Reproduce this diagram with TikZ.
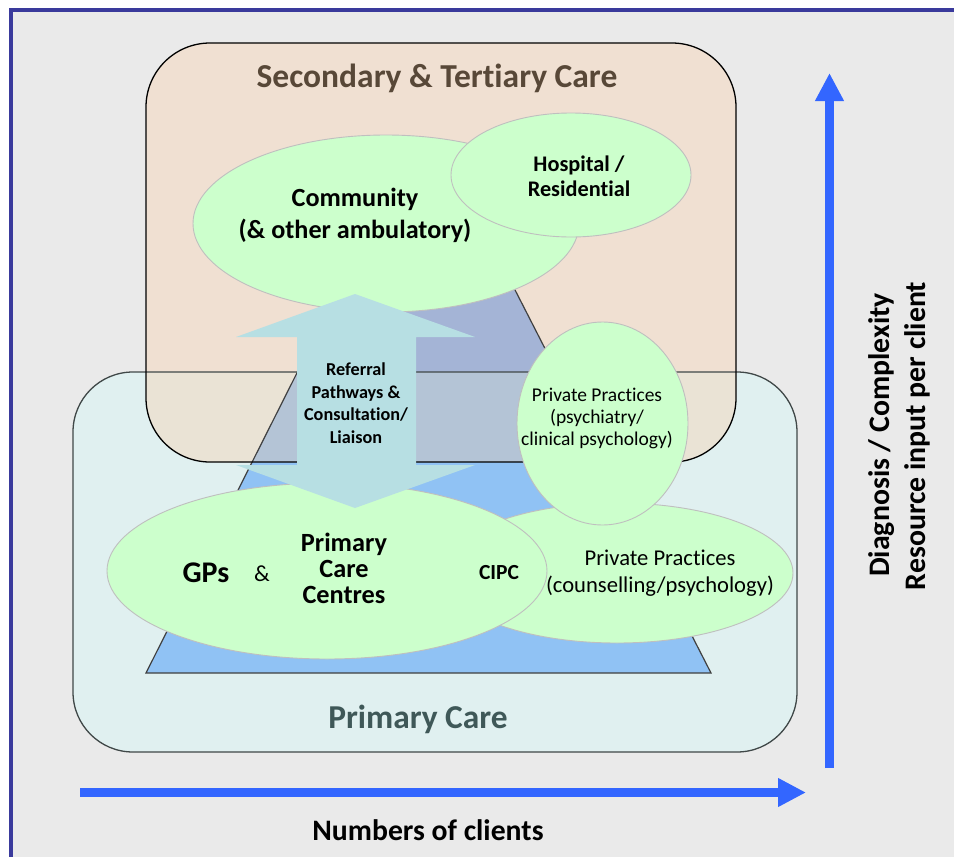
\documentclass[tikz,border=0pt]{standalone}
\usepackage{fontspec}
\setmainfont{Carlito}[Ligatures={NoCommon,NoContextual}]
\usetikzlibrary{arrows.meta,shapes.geometric}
\definecolor{bgc}{HTML}{EAEAEA}
\definecolor{framec}{HTML}{3A3A9C}
\definecolor{secc}{HTML}{F0E0D2}
\definecolor{primc}{HTML}{E0F0F0}
\definecolor{overc}{HTML}{EAE3D5}
\definecolor{trapc}{HTML}{90C2F4}
\definecolor{trapsec}{HTML}{A4B4D6}
\definecolor{trapover}{HTML}{B4C4D6}
\definecolor{ellc}{HTML}{CCFFCC}
\definecolor{elllc}{HTML}{BFBFBF}
\definecolor{arrc}{HTML}{B7DFE3}
\definecolor{axc}{HTML}{3366FF}
\definecolor{sectxt}{HTML}{584838}
\definecolor{primtxt}{HTML}{3F5858}
\definecolor{primbord}{HTML}{404848}
\begin{document}
\begin{tikzpicture}[x=1pt,y=-1pt,
  ell/.style={ellipse,fill=ellc,draw=elllc,line width=0.9pt,inner sep=0pt},
  lbl/.style={align=center,inner sep=0pt,text=black},
  axis/.style={draw=axc,line width=9pt,-{Triangle[length=28pt 0 0,width=27pt 0 0]}},
]
\useasboundingbox (0,0) rectangle (954,857);
\fill[white] (0,0) rectangle (954,857);
\fill[bgc] (11,10) rectangle (954,857);
\draw[framec,line width=4pt] (11,857) -- (11,10) -- (954,10);

% boxes fills
\fill[primc,rounded corners=60pt] (73,372) rectangle (797,752);
\fill[secc,rounded corners=64pt] (146,43) rectangle (736,462);
\begin{scope}
  \clip[rounded corners=64pt] (146,43) rectangle (736,462);
  \fill[overc,rounded corners=60pt] (73,372) rectangle (797,752);
\end{scope}

% trapezoid (pyramid)
\fill[trapc] (146,673) -- (384,200) -- (469,200) -- (711,673) -- cycle;
\begin{scope}
  \clip[rounded corners=64pt] (146,43) rectangle (736,462);
  \fill[trapsec] (146,673) -- (384,200) -- (469,200) -- (711,673) -- cycle;
  \clip[rounded corners=60pt] (73,372) rectangle (797,752);
  \fill[trapover] (146,673) -- (384,200) -- (469,200) -- (711,673) -- cycle;
\end{scope}
\draw[black!75,line width=1.2pt] (146,673) -- (384,200) -- (469,200) -- (711,673) -- cycle;

% box borders
\draw[primbord,line width=1.3pt,rounded corners=60pt] (73,372) rectangle (797,752);
\draw[black,line width=1.3pt,rounded corners=64pt] (146,43) rectangle (736,462);

% ellipses
\node[ell,minimum width=386pt,minimum height=177pt] (comm) at (386,223.5) {};
\node[ell,minimum width=240pt,minimum height=124pt] (hosp) at (571,175) {};
\node[ell,minimum width=352pt,minimum height=140pt] (couns) at (617,573) {};
\node[ell,minimum width=171pt,minimum height=203pt] (psych) at (602.5,423.5) {};
\node[ell,minimum width=440pt,minimum height=176pt] (gps) at (327,571) {};

% referral double arrow
\fill[arrc] (355,294) -- (475,337) -- (416,337) -- (416,465) -- (475,465)
  -- (355,508) -- (236,465) -- (297,465) -- (297,337) -- (236,337) -- cycle;

% axes
\coordinate (hx0) at (80,792.5);
\coordinate (hx1) at (806,792.5);
\coordinate (vy0) at (829.5,768);
\coordinate (vy1) at (829.5,73);
\draw[axis] (hx0) -- (hx1);
\draw[axis] (vy0) -- (vy1);

% texts
\node[lbl,anchor=base,text=sectxt,font=\bfseries\fontsize{33.5}{40}\selectfont] (sectitle) at (437,87) {Secondary \& Tertiary Care};
\node[lbl,anchor=base,text=primtxt,font=\bfseries\fontsize{33.4}{40}\selectfont] (primtitle) at (418,728) {Primary Care};
\node[lbl,font=\bfseries\fontsize{26.2}{32}\selectfont] (commt) at (355,215) {Community\\(\& other ambulatory)};
\node[lbl,font=\bfseries\fontsize{22.3}{25}\selectfont] (hospt) at (579,176) {Hospital /\\Residential};
\node[lbl,font=\bfseries\fontsize{18.2}{22.5}\selectfont] (reft) at (356,403) {Referral\\Pathways \&\\Consultation/\\Liaison};
\node[lbl,font=\fontsize{19.5}{22}\selectfont] (psycht) at (597,418) {Private Practices\\(psychiatry/\\clinical psychology)};
\node[lbl,font=\fontsize{22.6}{26.5}\selectfont] (counst) at (660,573) {Private Practices\\(counselling/psychology)};
\node[lbl,font=\bfseries\fontsize{30}{34}\selectfont] (gpst) at (206,573) {GPs};
\node[lbl,font=\fontsize{23}{26}\selectfont] (ampt) at (262,574) {\&};
\node[lbl,font=\bfseries\fontsize{26.3}{26}\selectfont] (pcct) at (344,568) {Primary\\Care\\Centres};
\node[lbl,font=\bfseries\fontsize{21.5}{25}\selectfont] (cipct) at (499,573) {CIPC};
\node[lbl,anchor=base,font=\bfseries\fontsize{29.7}{34}\selectfont] (numt) at (428,840) {Numbers of clients};
\node[lbl,rotate=90,font=\bfseries\fontsize{29.8}{34}\selectfont] (diagt) at (882,435) {Diagnosis / Complexity};
\node[lbl,rotate=90,font=\bfseries\fontsize{29.8}{34}\selectfont] (rest) at (917,436) {Resource input per client};
\end{tikzpicture}
\end{document}
